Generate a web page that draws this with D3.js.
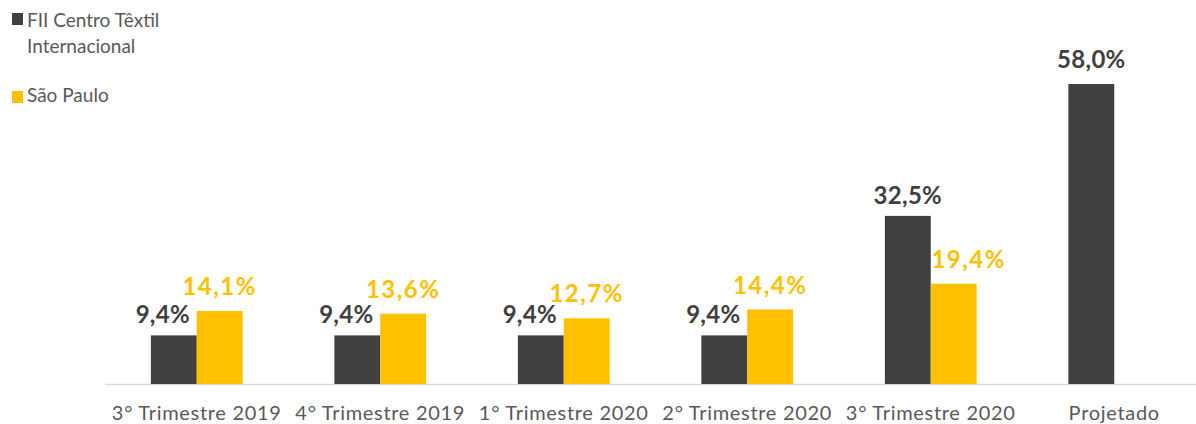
<!DOCTYPE html>
<html>
<head>
<meta charset="utf-8">
<script src="https://cdn.jsdelivr.net/npm/d3@7"></script>
<style>
  body { margin: 0; background: #fff; }
  svg { display: block; font-family: Lato, "Open Sans", sans-serif; }
</style>
</head>
<body>
<svg width="1196" height="424"></svg>
<script>
const categories = ["3° Trimestre 2019", "4° Trimestre 2019", "1° Trimestre 2020", "2° Trimestre 2020", "3° Trimestre 2020", "Projetado"];
const centroTextil = [9.4, 9.4, 9.4, 9.4, 32.5, 58.0];
const saoPaulo = [14.1, 13.6, 12.7, 14.4, 19.4, null];
const seriesNames = ["FII Centro Têxtil Internacional", "São Paulo"];
const colors = ["#404040", "#FFC000"];

const svg = d3.select("svg");
const attr_area = { left: 105, bandW: 183.5, base: 384, top: 84 };

const scX = d3.scaleBand()
    .domain(categories)
    .range([attr_area.left, attr_area.left + attr_area.bandW * categories.length]);

const scSeries = d3.scaleBand()
    .domain(seriesNames)
    .range([scX.bandwidth() * 0.25, scX.bandwidth() * 0.75]);

const scY = d3.scaleLinear()
    .domain([0, 58])
    .range([attr_area.base, attr_area.top]);

const fmt = v => d3.format(".1f")(v).replace(".", ",") + "%";

let rows = [];
categories.forEach((c, i) => {
    rows.push({ cat: c, s: 0, v: centroTextil[i], other: saoPaulo[i] });
    if (saoPaulo[i] !== null) rows.push({ cat: c, s: 1, v: saoPaulo[i], other: centroTextil[i] });
});

// axis
const axis = svg.append("g")
    .attr("transform", `translate(0, ${attr_area.base + 0.5})`)
    .call(d3.axisBottom(scX).tickSize(0).tickPadding(0));
axis.select(".domain").attr("stroke", "#d9d9d9").attr("stroke-width", 1.5).attr("d", "M105,0H1196");
axis.selectAll("text")
    .attr("y", 35)
    .attr("dy", 0)
    .style("font-family", "Lato, 'Open Sans', sans-serif")
    .style("font-size", "20px")
    .style("letter-spacing", "0.7px")
    .style("fill", "#595959");

// bars
svg.selectAll(".bar")
    .data(rows)
    .enter()
    .append("rect")
    .attr("x", d => scX(d.cat) + scSeries(seriesNames[d.s]))
    .attr("y", d => scY(d.v))
    .attr("width", scSeries.bandwidth())
    .attr("height", d => attr_area.base - scY(d.v))
    .style("fill", d => colors[d.s]);

// value labels (nudged sideways when the neighbour bar is taller)
svg.selectAll(".lbl")
    .data(rows)
    .enter()
    .append("text")
    .attr("x", d => {
        let x = scX(d.cat) + scSeries(seriesNames[d.s]) + scSeries.bandwidth() / 2;
        if (d.s === 0 && d.other !== null && d.other > d.v) x -= 11;
        if (d.s === 1 && d.other > d.v) x += 15;
        return x;
    })
    .attr("y", d => scY(d.v) - (d.s === 0 && d.other !== null ? 12 : 16))
    .attr("text-anchor", "middle")
    .style("font-size", "24px")
    .style("font-weight", "bold")
    .style("letter-spacing", d => d.s === 1 ? "1.5px" : "0.3px")
    .style("fill", d => colors[d.s])
    .text(d => fmt(d.v));

// legend
const legend = svg.append("g");
legend.append("rect").attr("x", 12).attr("y", 13).attr("width", 11).attr("height", 12).style("fill", colors[0]);
legend.append("rect").attr("x", 12).attr("y", 91).attr("width", 11).attr("height", 12).style("fill", colors[1]);
const legText = [["FII Centro Têxtil", 27], ["Internacional", 53], ["São Paulo", 102]];
legend.selectAll("text")
    .data(legText)
    .enter()
    .append("text")
    .attr("x", 27)
    .attr("y", d => d[1])
    .style("font-size", "19px")
    .style("fill", "#595959")
    .text(d => d[0]);
</script>
</body>
</html>
